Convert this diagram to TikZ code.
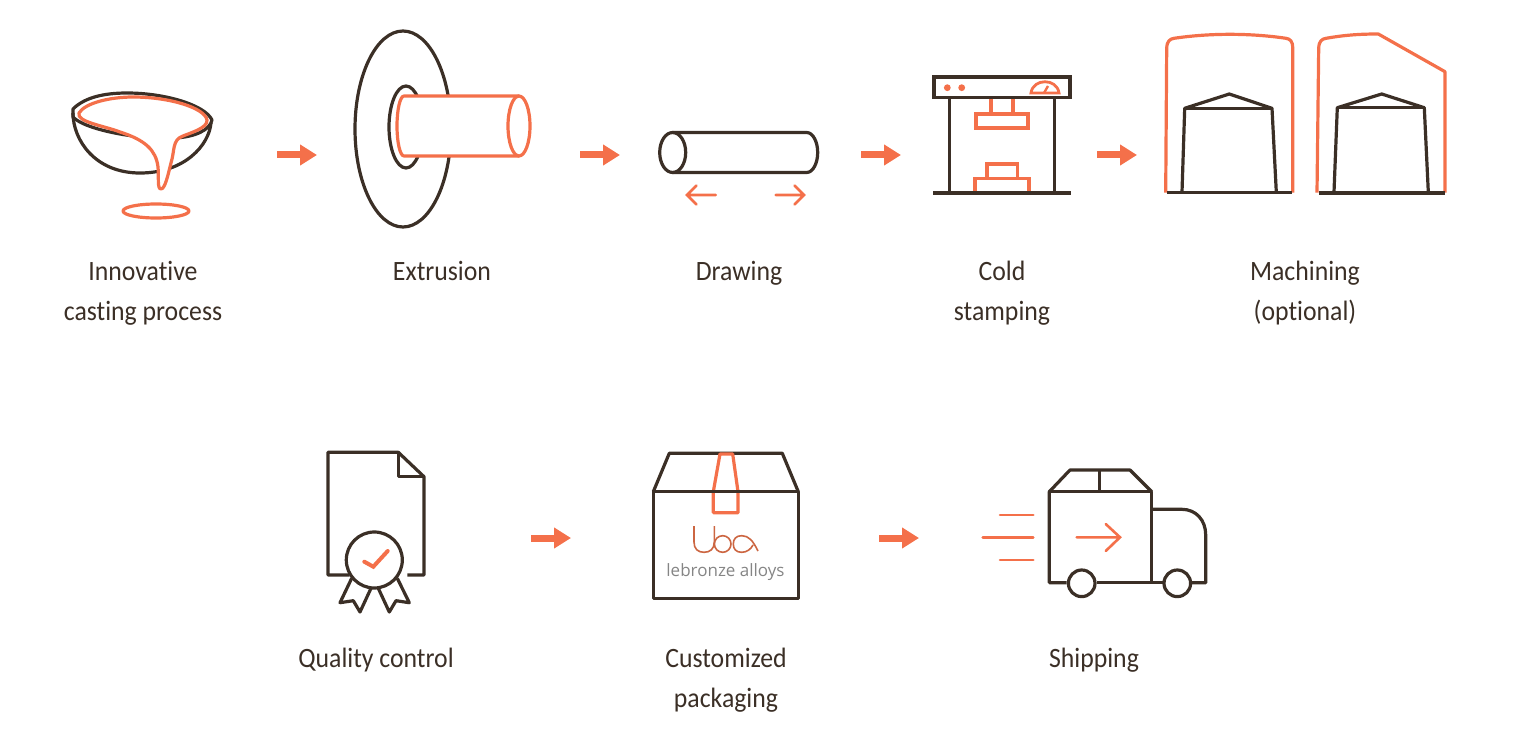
\documentclass[tikz,border=0pt]{standalone}
\usepackage{fontspec}
\setmainfont[FakeStretch=0.92, Ligatures=NoCommon]{Carlito}
\newfontfamily\logofont{Open Sans}
\usetikzlibrary{arrows.meta}
\definecolor{icondark}{HTML}{3B2F26}
\definecolor{iconorange}{HTML}{F4704A}
\definecolor{logored}{HTML}{CC6642}
\definecolor{logogray}{HTML}{858585}
\tikzset{
    darkline/.style = {draw = icondark, line width = 3.2pt, line join = round},
    orangeline/.style = {draw = iconorange, line width = 3.2pt, line join = round},
    thinorange/.style = {draw = iconorange, line width = 2.6pt, line cap = round, line join = miter},
    flowarrow/.style = {draw = iconorange, fill = iconorange, line width = 7pt, -{Triangle[length = 17pt, width = 20pt]}},
    steplabel/.style = {align = center, anchor = base, text = icondark, font = \fontsize{28}{40}\selectfont}
}
\begin{document}
\begin{tikzpicture}[x = 1pt, y = -1pt]
    \useasboundingbox (0, 0) rectangle (1524, 741);
    \draw[darkline] (73, 109) .. controls (85, 97) and (105, 93) .. (127, 93) .. controls (165, 93) and (205, 105) .. (212, 120) .. controls (210, 130) and (195, 137) .. (175, 138) .. controls (140, 140) and (85, 130) .. (73, 117) -- cycle;
    \draw[darkline] (73, 113) .. controls (73, 140) and (95, 173) .. (140, 173) .. controls (185, 173) and (209, 145) .. (211, 123);
    \draw[orangeline, fill = white] (79, 113) .. controls (85, 103) and (110, 97) .. (133, 97) .. controls (170, 97) and (205, 108) .. (207, 120) .. controls (208, 128) and (190, 133) .. (183, 136) .. controls (172, 140) and (175, 150) .. (171, 163) .. controls (168, 175) and (165, 189) .. (161, 189) .. controls (157, 189) and (159, 177) .. (158, 167) .. controls (156, 150) and (145, 140) .. (120, 132) .. controls (105, 126) and (76, 122) .. (79, 113) -- cycle;
    \draw[orangeline] (156, 211) ellipse [x radius = 33, y radius = 7];
    \draw[darkline] (403, 129) ellipse [x radius = 48, y radius = 98];
    \draw[darkline] (406, 127) ellipse [x radius = 17, y radius = 41];
    \draw[orangeline, fill = white] (519, 96) -- (404, 96) .. controls (400, 96) and (397, 110) .. (397, 126) .. controls (397, 142) and (400, 156) .. (404, 156) -- (519, 156);
    \draw[orangeline] (519, 126) ellipse [x radius = 11, y radius = 30];
    \draw[darkline] (672.7, 152.5) ellipse [x radius = 13, y radius = 20];
    \draw[darkline] (672.7, 132.5) -- (806.7, 132.5) .. controls (813, 132.5) and (817.7, 142) .. (817.7, 152.5) .. controls (817.7, 163) and (813, 172.5) .. (806.7, 172.5) -- (672.7, 172.5);
    \draw[thinorange] (715.7, 195) -- (687, 195) (696.5, 185.5) -- (687, 195) -- (696.5, 204.5);
    \draw[thinorange] (775.7, 195) -- (804, 195) (794.5, 185.5) -- (804, 195) -- (794.5, 204.5);
    \foreach \xa/\xb in {949.3/949.3, 1054.3/1054.3} {
        \draw[icondark, line width = 3.4pt] (\xa, 97) -- (\xb, 192);
    }
    \draw[icondark, line width = 3.6pt, fill = white] (934, 77) rectangle (1070, 97.4);
    \draw[icondark, line width = 3.6pt] (933, 192.7) -- (1071, 192.7);
    \foreach \xpos in {947.3, 961.7} {
        \fill[iconorange] (\xpos, 87.7) circle (3.4);
    }
    \draw[iconorange, line width = 2.8pt] (1031, 93) .. controls (1033, 78) and (1057, 78) .. (1059, 93) -- cycle;
    \draw[iconorange, line width = 2.4pt] (1044, 93) -- (1048, 86);
    \draw[iconorange, line width = 3.6pt] (991, 99) -- (991, 113.8) (1012.7, 99) -- (1012.7, 113.8);
    \draw[iconorange, line width = 3.6pt] (976.2, 113.8) rectangle (1028.2, 128.2);
    \draw[iconorange, line width = 3.6pt] (986.7, 178.7) -- (986.7, 163.8) -- (1017.3, 163.8) -- (1017.3, 178.7);
    \draw[iconorange, line width = 3.6pt] (975, 191) -- (975, 178.7) -- (1029, 178.7) -- (1029, 191);
    \draw[orangeline] (1165.7, 192.7) -- (1166.7, 48) .. controls (1167, 41) and (1170, 39) .. (1174, 38.3) .. controls (1210, 33) and (1250, 33) .. (1286, 38.3) .. controls (1290, 39) and (1292.7, 41) .. (1292.7, 48) -- (1292.7, 192.7);
    \draw[icondark, line width = 2.4pt] (1167, 192.7) -- (1292, 192.7);
    \draw[darkline] (1182, 192) -- (1184.7, 108.3) -- (1229.3, 94) -- (1272, 108.3) -- (1276.3, 192);
    \draw[darkline] (1184.7, 108.3) -- (1272, 108.3);
    \draw[orangeline] (1317, 192.7) -- (1318.7, 48) .. controls (1319, 41) and (1322, 39) .. (1326, 38.3) .. controls (1345, 35) and (1360, 34) .. (1378.3, 34) -- (1445, 71.7) -- (1445, 192.7);
    \draw[icondark, line width = 3.6pt] (1318.7, 192.7) -- (1445, 192.7);
    \draw[darkline] (1334, 192) -- (1337.3, 107.7) -- (1381.7, 94) -- (1424.3, 107.7) -- (1428.3, 192);
    \draw[darkline, line width = 3.6pt] (1337.3, 107.7) -- (1424.3, 107.7);
    \draw[darkline] (349.3, 575) -- (328, 575) -- (328, 452.3) -- (398.3, 452.3) -- (424, 476.7) -- (424, 575) -- (407.3, 575);
    \draw[darkline] (398.3, 452.3) -- (398.3, 476.7) -- (424, 476.7);
    \draw[darkline] (374.3, 560) circle (28);
    \draw[darkline] (351.7, 578.3) -- (340, 602.7) -- (353.3, 600.7) -- (360, 612) -- (371, 588.3);
    \draw[darkline] (397.3, 578.3) -- (409.3, 602.7) -- (396, 600.7) -- (389.3, 612) -- (378.3, 588.3);
    \draw[iconorange, line width = 4pt, line cap = round] (364.3, 561.7) -- (373.3, 566.7) -- (387.7, 551);
    \draw[darkline] (653.3, 491.7) -- (669.3, 453.3) -- (782.3, 453.3) -- (798.3, 491.7);
    \draw[orangeline] (720, 454) -- (732.7, 454) -- (738, 491.7) -- (738, 512.7) -- (713.3, 512.7) -- (713.3, 491.7) -- cycle;
    \draw[darkline] (653.3, 491.7) rectangle (798.3, 598.3);
    \draw[logored, line width = 1.6pt] (694, 526) -- (694, 542) .. controls (694, 549) and (698, 552.3) .. (704, 552.3) .. controls (710, 552.3) and (714.3, 549) .. (714.3, 542) -- (714.3, 526);
    \draw[logored, line width = 1.6pt] (722.7, 544) circle (8.3);
    \draw[logored, line width = 1.6pt] (758, 551) .. controls (753, 541) and (749, 535.7) .. (741.7, 535.7) .. controls (736, 535.7) and (733.3, 539) .. (733.3, 544) .. controls (733.3, 549) and (736, 552.3) .. (741.7, 552.3) .. controls (747, 552.3) and (751, 549) .. (753, 545);
    \node[text = logogray, font = \logofont\fontsize{17}{18}\selectfont] (logoname) at (725.5, 572) {lebronze alloys};
    \draw[darkline] (1151.7, 491.7) -- (1130, 470) -- (1070, 470) -- (1049.3, 491.7) -- (1049.3, 582.7) -- (1066.7, 582.7);
    \draw[darkline] (1049.3, 491.7) -- (1151.7, 491.7) -- (1151.7, 582.7);
    \draw[darkline] (1099.3, 470) -- (1099.3, 491.7);
    \draw[darkline] (1096.7, 582.7) -- (1164, 582.7);
    \draw[darkline] (1151.7, 509.3) -- (1181.7, 509.3) .. controls (1196, 509.3) and (1205.7, 520) .. (1205.7, 535) -- (1205.7, 582.7) -- (1190, 582.7);
    \foreach \xpos in {1081.7, 1177.3} {
        \draw[darkline] (\xpos, 583.3) circle (13.3);
    }
    \foreach \xa/\ypos in {1000/515, 982.7/537.3, 1000/560} {
        \draw[thinorange] (\xa, \ypos) -- (1033.3, \ypos);
    }
    \draw[thinorange] (1076.7, 537.3) -- (1120, 537.3) (1105.7, 524) -- (1120, 537.3) -- (1105.7, 551);
    \foreach \i/\xpos/\ypos in {1/277/155, 2/580/155, 3/861/155, 4/1097/155, 5/531/538, 6/879/538} {
        \coordinate (from\i) at (\xpos, \ypos);
        \coordinate (to\i) at (\xpos + 40, \ypos);
        \draw[flowarrow] (from\i) -- (to\i);
    }
    \node[steplabel] (casting) at (143, 320) {Innovative\\casting process};
    \node[steplabel] (extrusion) at (442, 280) {Extrusion};
    \node[steplabel] (drawing) at (739, 280) {Drawing};
    \node[steplabel] (stamping) at (1002, 320) {Cold\\stamping};
    \node[steplabel] (machining) at (1305, 320) {Machining\\(optional)};
    \node[steplabel] (quality) at (376, 667) {Quality control};
    \node[steplabel] (packaging) at (726, 707) {Customized\\packaging};
    \node[steplabel] (shipping) at (1094, 667) {Shipping};
\end{tikzpicture}
\end{document}
